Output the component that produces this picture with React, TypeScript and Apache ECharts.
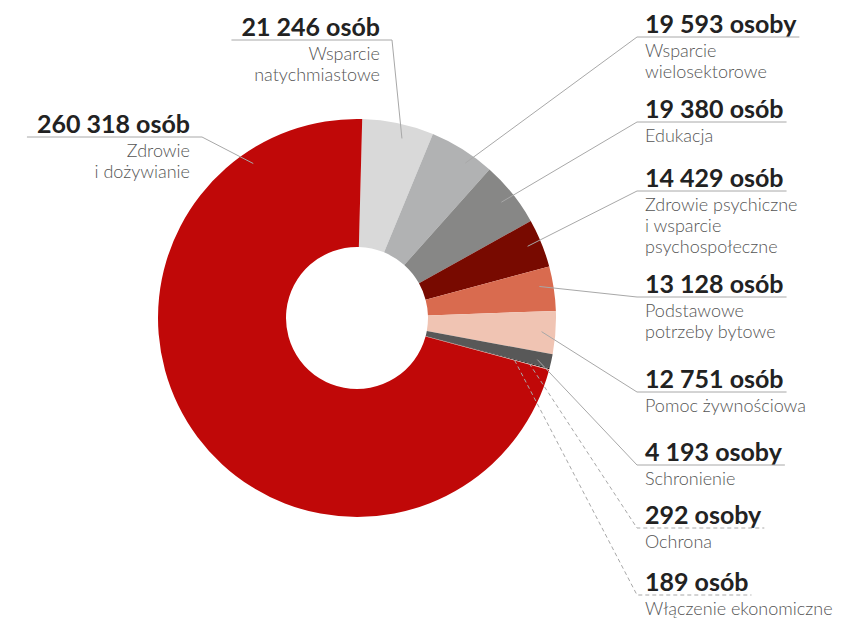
import React, { useEffect, useRef } from 'react';
import * as echarts from 'echarts';

// ---- data ----
const categories = [
  'Wsparcie natychmiastowe',
  'Wsparcie wielosektorowe',
  'Edukacja',
  'Zdrowie psychiczne i wsparcie psychospołeczne',
  'Podstawowe potrzeby bytowe',
  'Pomoc żywnościowa',
  'Schronienie',
  'Ochrona',
  'Włączenie ekonomiczne',
  'Zdrowie i dożywianie',
];
const values = [21246, 19593, 19380, 14429, 13128, 12751, 4193, 292, 189, 260318];
const valueLabels = [
  '21 246 osób',
  '19 593 osoby',
  '19 380 osób',
  '14 429 osób',
  '13 128 osób',
  '12 751 osób',
  '4 193 osoby',
  '292 osoby',
  '189 osób',
  '260 318 osób',
];
const subtitleLines = [
  ['Wsparcie', 'natychmiastowe'],
  ['Wsparcie', 'wielosektorowe'],
  ['Edukacja'],
  ['Zdrowie psychiczne', 'i wsparcie', 'psychospołeczne'],
  ['Podstawowe', 'potrzeby bytowe'],
  ['Pomoc żywnościowa'],
  ['Schronienie'],
  ['Ochrona'],
  ['Włączenie ekonomiczne'],
  ['Zdrowie', 'i dożywianie'],
];

// ---- styling / layout ----
const colors = ['#d9d9d9', '#b1b2b3', '#878786', '#780a00', '#d96b4f', '#f0c4b3', '#585858', '#151515', '#e9c0b5', '#c00808'];
const labelSide = ['left', 'right', 'right', 'right', 'right', 'right', 'right', 'right', 'right', 'left'];
const labelTextX = [380, 645, 645, 645, 645, 645, 645, 645, 645, 190];
const underlineY = [40, 37, 122, 191, 297, 392, 465, 528, 595, 137];
const anchorFrac = [0.6, 0.65, 0.5, 0.45, 0.4, 0.5, 0.6, 0.5, 0.5, 0.862];
const anchorRadius = [0.93, 0.95, 0.93, 0.93, 0.93, 0.93, 0.93, 0.895, 0.82, 0.935];
const dashed = [false, false, false, false, false, false, false, true, true, false];

const CX = 357;
const CY = 318;
const R_IN = 71;
const R_OUT = 199;
const START_ANGLE = 88.5;
const NUM_SIZE = 25;
const SUB_SIZE = 18;
const NUM_FONT = `bold ${NUM_SIZE}px Lato`;

function measure(text: string, font: string): number {
  const c = document.createElement('canvas');
  const ctx = c.getContext('2d');
  if (!ctx) return text.length * 12;
  ctx.font = font;
  return ctx.measureText(text).width;
}

export default function App() {
  const ref = useRef<HTMLDivElement>(null);

  useEffect(() => {
    if (!ref.current) return;
    const chart = echarts.init(ref.current, undefined, { renderer: 'svg' });
    const total = values.reduce((a, b) => a + b, 0);
    const cum: number[] = [];
    let acc = 0;
    values.forEach((v) => {
      cum.push(acc);
      acc += v;
    });
    const numWidths = valueLabels.map((t) => measure(t, NUM_FONT));

    // leader lines: from a point inside each slice (derived from the data angles)
    // to the start of the underline, then along the underline
    const leaderLines = values.map((v, i) => {
      const aStart = START_ANGLE - (cum[i] / total) * 360;
      const span = (v / total) * 360;
      const a = ((aStart - anchorFrac[i] * span) * Math.PI) / 180;
      const r = R_OUT * anchorRadius[i];
      const ax = CX + r * Math.cos(a);
      const ay = CY - r * Math.sin(a);
      const uy = underlineY[i];
      const tx = labelTextX[i];
      const w = numWidths[i];
      const pts =
        labelSide[i] === 'right'
          ? [
              [ax, ay],
              [tx - 8, uy],
              [tx + w + 3, uy],
            ]
          : [
              [ax, ay],
              [tx + 12, uy],
              [tx - w - 10, uy],
            ];
      return {
        type: 'polyline',
        z: 100,
        silent: true,
        shape: { points: pts },
        style: {
          fill: null,
          stroke: '#a8a8a8',
          lineWidth: 1,
          lineDash: dashed[i] ? [4, 3] : null,
        },
      };
    });

    const data = values.map((v, i) => ({
      name: categories[i],
      value: v,
      itemStyle: { color: colors[i] },
    }));

    chart.setOption({
      animation: false,
      graphic: leaderLines,
      series: [
        {
          type: 'pie',
          center: [CX, CY],
          radius: [R_IN, R_OUT],
          startAngle: START_ANGLE,
          clockwise: true,
          avoidLabelOverlap: false,
          silent: true,
          data,
          label: {
            show: true,
            position: 'outside',
            formatter: (p: any) => {
              const i = p.dataIndex;
              return [`{n|${valueLabels[i]}}`, ...subtitleLines[i].map((s) => `{s|${s}}`)].join('\n');
            },
            rich: {
              n: {
                fontFamily: 'Lato',
                fontWeight: 'bold',
                fontSize: NUM_SIZE,
                color: '#222222',
                lineHeight: 32,
              },
              s: {
                fontFamily: 'Lato',
                fontWeight: 300,
                fontSize: SUB_SIZE,
                color: '#555555',
                lineHeight: 21,
              },
            },
          },
          labelLine: { show: false },
          labelLayout: (params: any) => {
            const i = params.dataIndex;
            return {
              x: labelTextX[i],
              y: underlineY[i] - 30,
              align: labelSide[i] === 'right' ? 'left' : 'right',
              verticalAlign: 'top',
            };
          },
        },
      ],
    });
    return () => chart.dispose();
  }, []);

  return (
    <div
      ref={ref}
      style={{ position: 'absolute', left: 0, top: 0, width: 862, height: 619, background: '#ffffff' }}
    />
  );
}
